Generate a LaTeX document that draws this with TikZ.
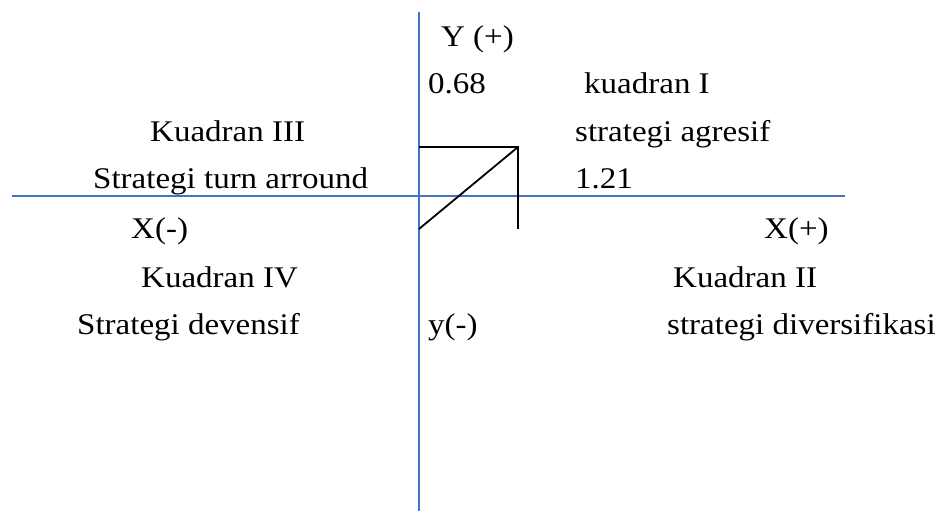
\documentclass[tikz,border=0pt]{standalone}
\usepackage{fontspec}
\setmainfont[FakeStretch=1.1]{Liberation Serif}
\usetikzlibrary{positioning}

\definecolor{axisblue}{RGB}{68,114,196}

\begin{document}
\begin{tikzpicture}[x=1pt, y=-1pt, font=\fontsize{30}{36}\selectfont,
    lbl/.style={anchor=base west, inner sep=0pt},
    axis/.style={draw=axisblue, line width=1.6pt},
    mark line/.style={draw=black, line width=1.8pt}]
  \useasboundingbox (0,0) rectangle (937,511);
  % axes
  \coordinate (ytop) at (419,12);
  \coordinate (ybot) at (419,511);
  \coordinate (xleft) at (12,196);
  \coordinate (xright) at (845,196);
  \draw[axis] (ytop) -- (ybot);
  \draw[axis] (xleft) -- (xright);
  % position point
  \coordinate (p68) at (419,147);
  \coordinate (pt) at (518,147);
  \coordinate (p21) at (518,229);
  \coordinate (porig) at (419,229);
  \draw[mark line] (p68) -- (pt) -- (p21);
  \draw[mark line] (porig) -- (pt);
  % labels
  \node[lbl] (yplus) at (441,47) {Y (+)};
  \node[lbl] (v68) at (428,93) {0.68};
  \node[lbl] (q1) at (584,93) {kuadran I};
  \node[lbl] (q3) at (150,141) {Kuadran III};
  \node[lbl] (s1) at (575,141) {strategi agresif};
  \node[lbl] (s3) at (93,188) {Strategi turn arround};
  \node[lbl] (v21) at (575,188) {1.21};
  \node[lbl] (xminus) at (131,238) {X(-)};
  \node[lbl] (xplus) at (764,238) {X(+)};
  \node[lbl] (q4) at (141,287) {Kuadran IV};
  \node[lbl] (q2) at (673,287) {Kuadran II};
  \node[lbl] (s4) at (77,334) {Strategi devensif};
  \node[lbl] (yminus) at (428,334) {y(-)};
  \node[lbl] (s2) at (667,334) {strategi diversifikasi};
\end{tikzpicture}
\end{document}
